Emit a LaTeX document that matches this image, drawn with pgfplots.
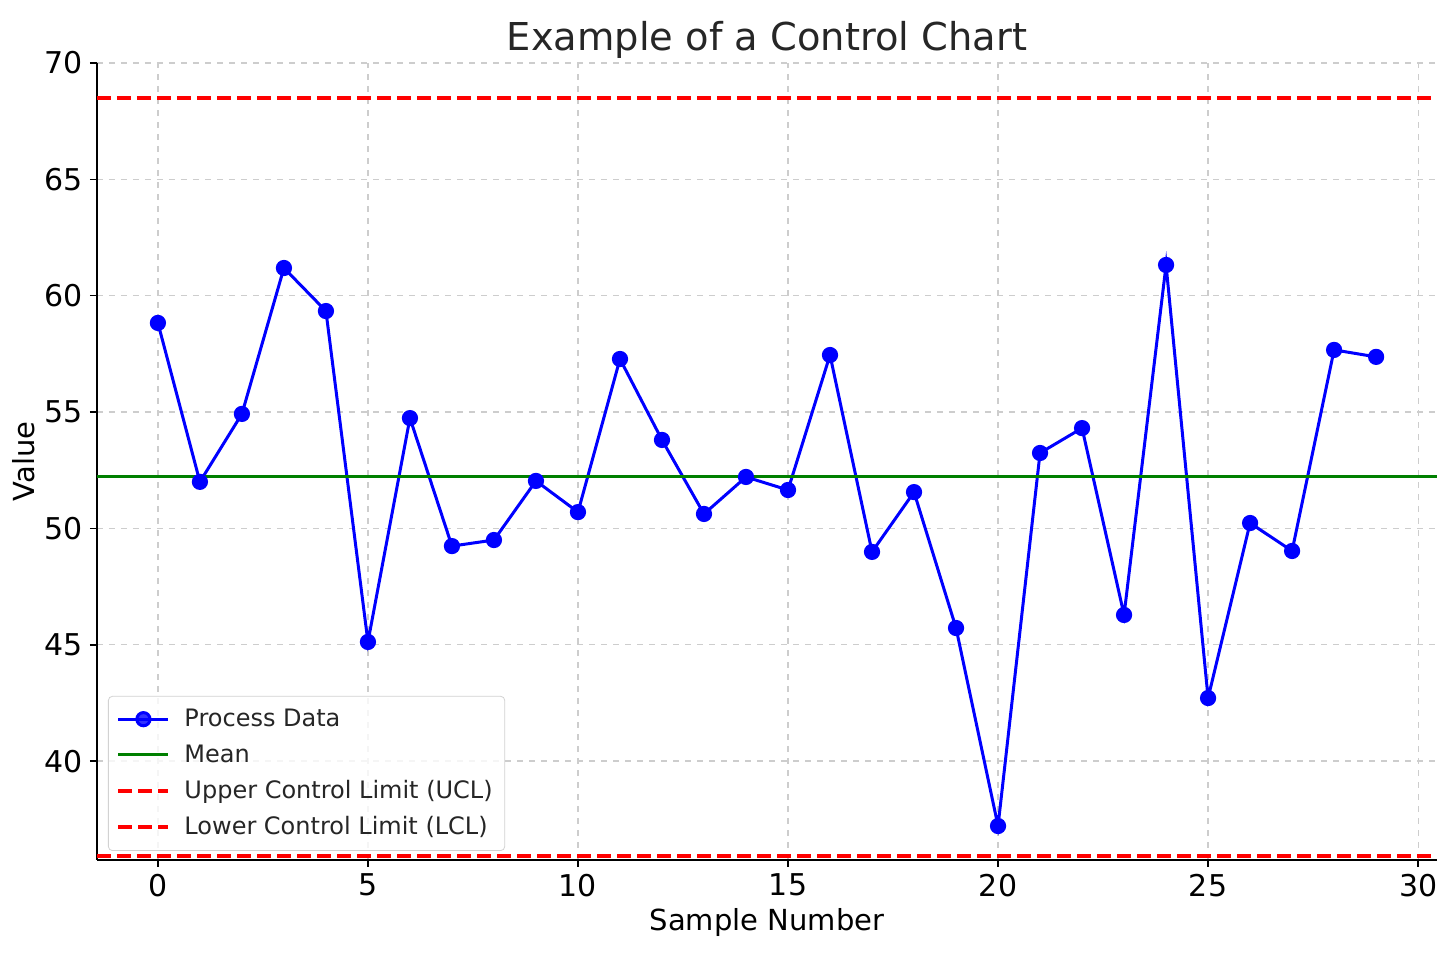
\documentclass[border=0pt]{standalone}
\usepackage{pgfplots}
\pgfplotsset{compat=1.18}
\usepackage{fontspec}
\setmainfont{DejaVu Sans}

\definecolor{mplgreen}{rgb}{0,0.5,0}
\definecolor{gridgray}{RGB}{205,205,205}
\definecolor{txt}{RGB}{38,38,38}

\begin{document}
\begin{tikzpicture}
\begin{axis}[
    width=670pt, height=398.5pt,
    scale only axis,
    at={(0,0)}, anchor=south west,
    xmin=-1.45, xmax=30.45,
    ymin=35.75, ymax=70,
    xtick={0,5,...,30},
    ytick={40,45,...,70},
    axis x line*=bottom,
    axis y line*=left,
    axis line style={line width=1pt, -},
    tick align=outside,
    major tick length=3.5pt,
    tick style={line width=0.8pt, black},
    grid=major,
    major grid style={dashed, gridgray, line width=0.6pt},
    /pgf/number format/assume math mode=true,
    ticklabel style={font=\fontsize{15}{18}\selectfont, text=black},
    title={Example of a Control Chart},
    title style={font=\fontsize{19.2}{23}\selectfont, text=txt, yshift=-7.5pt},
    xlabel={Sample Number},
    ylabel={Value},
    label style={font=\fontsize{14.5}{17}\selectfont, text=black},
    xlabel style={yshift=1pt},
    ylabel style={yshift=-2pt},
    legend cell align=left,
    legend style={
        at={(0,0)}, anchor=south west, xshift=5.5pt, yshift=4.5pt,
        draw=gray!35, rounded corners=2pt,
        fill=white, fill opacity=0.8, text opacity=1,
        font=\fontsize{12}{14.5}\selectfont, text=txt,
        row sep=3.6pt, column sep=5pt, inner xsep=4pt, inner ysep=4.3pt,
    },
    legend image code/.code={%
        \draw[mark repeat=2,mark phase=2,#1] plot coordinates {(0cm,0cm)(0.44cm,0cm)(0.88cm,0cm)};},
]
% process data
\addplot[color=blue, line width=1.5pt, mark=*, mark size=3.3pt, mark options={solid, fill=blue}] coordinates {
    (0,58.83) (1,52.00) (2,54.92) (3,61.19) (4,59.34)
    (5,45.12) (6,54.74) (7,49.24) (8,49.50) (9,52.04)
    (10,50.70) (11,57.28) (12,53.80) (13,50.62) (14,52.21)
    (15,51.65) (16,57.45) (17,48.99) (18,51.56) (19,45.72)
    (20,37.21) (21,53.24) (22,54.31) (23,46.28) (24,61.32)
    (25,42.71) (26,50.23) (27,49.03) (28,57.67) (29,57.37)
};
\addlegendentry{Process Data}
% mean
\addplot[color=mplgreen, line width=1.5pt] coordinates {(-1.45,52.21) (30.45,52.21)};
\addlegendentry{Mean}
% UCL
\addplot[color=red, line width=2pt, dash pattern=on 7pt off 3pt] coordinates {(-1.45,68.49) (30.45,68.49)};
\addlegendentry{Upper Control Limit (UCL)}
% LCL
\addplot[color=red, line width=2pt, dash pattern=on 7pt off 3pt] coordinates {(-1.45,35.94) (30.45,35.94)};
\addlegendentry{Lower Control Limit (LCL)}
\end{axis}
\path (-48.5pt,-48pt) rectangle (676.5pt,430pt);
\end{tikzpicture}
\end{document}
